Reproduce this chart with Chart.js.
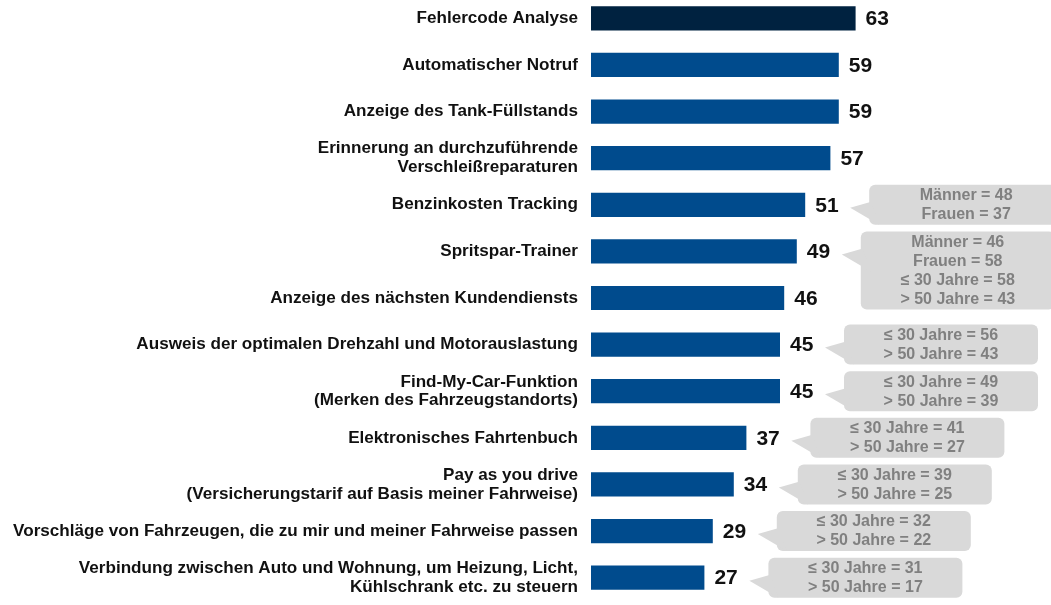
<!DOCTYPE html>
<html>
<head>
<meta charset="utf-8">
<script src="https://cdn.jsdelivr.net/npm/chart.js@4.4.0/dist/chart.umd.min.js"></script>
<style>
  html, body { margin: 0; padding: 0; background: #fff; overflow: hidden; }
  #wrap { position: absolute; left: 0; top: -5px; width: 1051px; height: 610px; }
</style>
</head>
<body>
<div id="wrap"><canvas id="myChart"></canvas></div>
<script>
const categories = [
  'Fehlercode Analyse',
  'Automatischer Notruf',
  'Anzeige des Tank-Füllstands',
  ['Erinnerung an durchzuführende', 'Verschleißreparaturen'],
  'Benzinkosten Tracking',
  'Spritspar-Trainer',
  'Anzeige des nächsten Kundendiensts',
  'Ausweis der optimalen Drehzahl und Motorauslastung',
  ['Find-My-Car-Funktion', '(Merken des Fahrzeugstandorts)'],
  'Elektronisches Fahrtenbuch',
  ['Pay as you drive', '(Versicherungstarif auf Basis meiner Fahrweise)'],
  'Vorschläge von Fahrzeugen, die zu mir und meiner Fahrweise passen',
  ['Verbindung zwischen Auto und Wohnung, um Heizung, Licht,', 'Kühlschrank etc. zu steuern']
];
const values = [63, 59, 59, 57, 51, 49, 46, 45, 45, 37, 34, 29, 27];
const callouts = [
  null, null, null, null,
  ['Männer = 48', 'Frauen = 37'],
  ['Männer = 46', 'Frauen = 58', '≤ 30 Jahre = 58', '> 50 Jahre = 43'],
  null,
  ['≤ 30 Jahre = 56', '> 50 Jahre = 43'],
  ['≤ 30 Jahre = 49', '> 50 Jahre = 39'],
  ['≤ 30 Jahre = 41', '> 50 Jahre = 27'],
  ['≤ 30 Jahre = 39', '> 50 Jahre = 25'],
  ['≤ 30 Jahre = 32', '> 50 Jahre = 22'],
  ['≤ 30 Jahre = 31', '> 50 Jahre = 17']
];
const barColors = values.map((v, i) => i === 0 ? '#002240' : '#004b8d');

const FONT = "'Liberation Sans', Arial, sans-serif";

// value labels and grey speech bubbles
const labelsPlugin = {
  id: 'labelsPlugin',
  afterDatasetsDraw(chart) {
    const ctx = chart.ctx;
    const meta = chart.getDatasetMeta(0);
    const xs = chart.scales.x;
    ctx.save();
    meta.data.forEach((bar, i) => {
      const end = xs.getPixelForValue(values[i]);
      const cy = bar.y;
      ctx.fillStyle = '#111';
      ctx.font = 'bold 21px ' + FONT;
      ctx.textAlign = 'left';
      ctx.textBaseline = 'middle';
      ctx.fillText(String(values[i]), end + 10, cy + 1);

      const lines = callouts[i];
      if (!lines) return;
      const left = end + 64;
      const w = 194;
      const h = lines.length * 19 + 2;
      const top = cy - 20;
      ctx.fillStyle = '#d9d9d9';
      ctx.beginPath();
      ctx.roundRect(left, top, w, h, 6);
      ctx.fill();
      ctx.beginPath();
      ctx.moveTo(left + 2, cy - 3);
      ctx.lineTo(left - 19, cy + 3);
      ctx.lineTo(left + 10, top + 40);
      ctx.closePath();
      ctx.fill();
      ctx.fillStyle = '#808080';
      ctx.font = 'bold 16px ' + FONT;
      ctx.textAlign = 'center';
      lines.forEach((t, k) => {
        ctx.fillText(t, left + w / 2, top + 11 + k * 19);
      });
    });
    ctx.restore();
  }
};

new Chart(document.getElementById('myChart'), {
  type: 'bar',
  data: {
    labels: categories,
    datasets: [{
      data: values,
      backgroundColor: barColors,
      barPercentage: 0.52,
      categoryPercentage: 1
    }]
  },
  options: {
    indexAxis: 'y',
    responsive: true,
    maintainAspectRatio: false,
    animation: false,
    layout: { padding: { left: 0, right: 40, top: 0, bottom: 4 } },
    plugins: { legend: { display: false }, tooltip: { enabled: false } },
    scales: {
      x: { display: false, min: 0, max: 100 },
      y: {
        grid: { display: false, drawTicks: false },
        border: { display: false },
        afterFit(scale) {
          scale.width = 591;
          scale.paddingTop = 0;
          scale.paddingBottom = 0;
        },
        ticks: {
          padding: 13,
          color: '#111',
          font: { family: FONT, size: 17.1, weight: 'bold', lineHeight: 1.1 }
        }
      }
    }
  },
  plugins: [labelsPlugin]
});
</script>
</body>
</html>
